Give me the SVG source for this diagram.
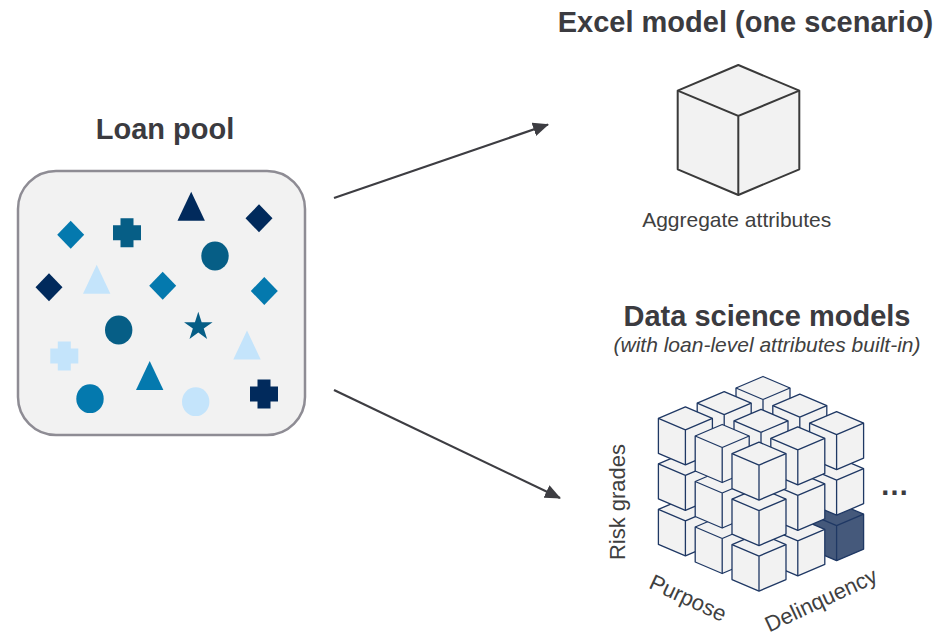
<svg xmlns="http://www.w3.org/2000/svg" xmlns:xlink="http://www.w3.org/1999/xlink" width="948" height="641" viewBox="0 0 948 641">
  <style>
    .title { font-family: "Liberation Sans", Arial, sans-serif; font-weight: bold; font-size: 29px; fill: #3b3b40; text-anchor: middle; }
    .label { font-family: "Liberation Sans", Arial, sans-serif; font-size: 21px; fill: #404040; text-anchor: middle; }
    .axis { font-family: "Liberation Sans", Arial, sans-serif; font-size: 22px; fill: #404040; text-anchor: middle; }
    .sub { font-family: "Liberation Sans", Arial, sans-serif; font-style: italic; font-size: 21px; fill: #404040; text-anchor: middle; }
    .navy { fill: #012a5c; }
    .deep { fill: #065e86; }
    .teal { fill: #0479ae; }
    .pale { fill: #c4e4fb; }
    .cube { fill: #f2f2f2; stroke: #1f3864; stroke-width: 1.3; stroke-linejoin: round; }
    .cube.dark { fill: #45597b; }
    .link { stroke: #3d3d42; stroke-width: 2.2; fill: none; }
  </style>
  <defs>
    <marker id="arrowhead" viewBox="0 0 16 14" refX="15" refY="7" markerWidth="16" markerHeight="14" markerUnits="userSpaceOnUse" orient="auto">
      <path d="M0,0 L16,7 L0,14 Z" fill="#3d3d42"/>
    </marker>
    <path id="diamond" d="M0,-14 L13.5,0 L0,14 L-13.5,0 Z"/>
    <path id="plus" d="M-6.5,-14.5 H6.5 V-7.5 H14 V7.5 H6.5 V14.5 H-6.5 V7.5 H-14 V-7.5 H-6.5 Z"/>
    <path id="triangle" d="M0,-14.5 L13.7,14.5 L-13.7,14.5 Z"/>
    <ellipse id="dot" cx="0" cy="0" rx="13.7" ry="14.4"/>
    <path id="star" d="M0,-15 L3.37,-4.64 L14.27,-4.64 L5.45,1.77 L8.82,12.14 L0,5.73 L-8.82,12.14 L-5.45,1.77 L-14.27,-4.64 L-3.37,-4.64 Z"/>
    <!-- small isometric block, origin at the left corner of its top face -->
    <g id="cube">
      <path d="M0,0 L27,-11.5 L54,0 V35 L27,46.5 L0,35 Z"/>
      <path d="M0,0 L27,11.5 L54,0 M27,11.5 V46.5" fill="none"/>
    </g>
  </defs>

  <rect width="948" height="641" fill="#ffffff"/>

  <!-- Loan pool -->
  <g id="loan-pool">
    <text class="title" x="165" y="139">Loan pool</text>
    <rect x="18" y="171" width="287" height="264" rx="38" ry="38" fill="#f2f2f2" stroke="#8e8c94" stroke-width="2.5"/>
    <use href="#diamond" class="teal" x="70.7" y="234.7"/>
    <use href="#plus" class="deep" x="127" y="232.7"/>
    <use href="#triangle" class="navy" x="191.2" y="206.2"/>
    <use href="#diamond" class="navy" x="259" y="218.3"/>
    <use href="#dot" class="deep" x="215" y="256"/>
    <use href="#diamond" class="navy" x="49" y="287.3"/>
    <use href="#triangle" class="pale" x="96.7" y="279.2"/>
    <use href="#diamond" class="teal" x="162.7" y="285.7"/>
    <use href="#diamond" class="teal" x="264.3" y="291"/>
    <use href="#dot" class="deep" x="118.7" y="330"/>
    <use href="#star" class="deep" x="198.3" y="326.8"/>
    <use href="#triangle" class="pale" x="247" y="345"/>
    <use href="#plus" class="pale" x="64.3" y="356"/>
    <use href="#triangle" class="teal" x="149.7" y="375.5"/>
    <use href="#dot" class="teal" x="90" y="398.7"/>
    <use href="#dot" class="pale" x="195.7" y="401.7"/>
    <use href="#plus" class="navy" x="264" y="394"/>
  </g>

  <!-- Excel model: one aggregate block -->
  <g id="excel-model">
    <text class="title" x="745.5" y="32">Excel model (one scenario)</text>
    <path d="M738.3,65 L799.3,90.7 V169.3 L738.3,195 L677.7,169.3 V90.7 Z" fill="#f2f2f2" stroke="#3a3a3a" stroke-width="2" stroke-linejoin="round"/>
    <path d="M677.7,90.7 L738.3,116 L799.3,90.7 M738.3,116 V195" fill="none" stroke="#3a3a3a" stroke-width="2"/>
    <text class="label" x="736.7" y="226.5">Aggregate attributes</text>
  </g>

  <!-- Data science models: 3x3x3 stack of blocks, drawn back to front -->
  <g id="data-science-models">
    <text class="title" x="767" y="326">Data science models</text>
    <text class="sub" x="767" y="352">(with loan-level attributes built-in)</text>
    <use href="#cube" class="cube" x="736" y="479"/>
    <use href="#cube" class="cube" x="736" y="433.5"/>
    <use href="#cube" class="cube" x="697.2" y="494.2"/>
    <use href="#cube" class="cube" x="772.8" y="496.6"/>
    <use href="#cube" class="cube" x="736" y="388"/>
    <use href="#cube" class="cube" x="697.2" y="448.7"/>
    <use href="#cube" class="cube" x="772.8" y="451.1"/>
    <use href="#cube" class="cube" x="658.4" y="509.4"/>
    <use href="#cube" class="cube" x="734" y="511.8"/>
    <use href="#cube" class="cube dark" x="809.6" y="514.2"/>
    <use href="#cube" class="cube" x="697.2" y="403.2"/>
    <use href="#cube" class="cube" x="772.8" y="405.6"/>
    <use href="#cube" class="cube" x="658.4" y="463.9"/>
    <use href="#cube" class="cube" x="734" y="466.3"/>
    <use href="#cube" class="cube" x="809.6" y="468.7"/>
    <use href="#cube" class="cube" x="695.2" y="527"/>
    <use href="#cube" class="cube" x="770.8" y="529.4"/>
    <use href="#cube" class="cube" x="658.4" y="418.4"/>
    <use href="#cube" class="cube" x="734" y="420.8"/>
    <use href="#cube" class="cube" x="809.6" y="423.2"/>
    <use href="#cube" class="cube" x="695.2" y="481.5"/>
    <use href="#cube" class="cube" x="770.8" y="483.9"/>
    <use href="#cube" class="cube" x="732" y="544.6"/>
    <use href="#cube" class="cube" x="695.2" y="436"/>
    <use href="#cube" class="cube" x="770.8" y="438.4"/>
    <use href="#cube" class="cube" x="732" y="499.1"/>
    <use href="#cube" class="cube" x="732" y="453.6"/>
    <text class="axis" transform="translate(617,502) rotate(-90)" x="0" y="7.5">Risk grades</text>
    <text class="axis" transform="translate(688,598) rotate(25)" x="0" y="7.5">Purpose</text>
    <text class="axis" transform="translate(821,600) rotate(-25)" x="0" y="7.5">Delinquency</text>
    <text class="title" x="894.5" y="495" font-size="28">…</text>
  </g>

  <!-- Connectors -->
  <g id="connectors">
    <line class="link" x1="334" y1="198" x2="548" y2="124.5" marker-end="url(#arrowhead)"/>
    <line class="link" x1="334" y1="390" x2="560" y2="498" marker-end="url(#arrowhead)"/>
  </g>
</svg>
